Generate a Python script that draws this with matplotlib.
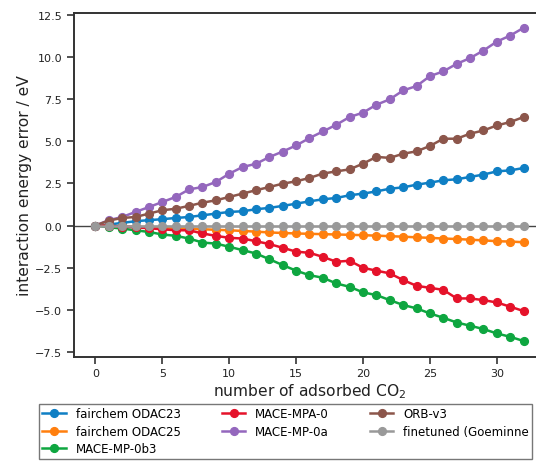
import matplotlib
matplotlib.use("Agg")
import matplotlib.pyplot as plt
import numpy as np

n_co2 = list(range(33))

fairchem_odac23 = [0, 0.06, 0.16, 0.26, 0.32, 0.38, 0.45, 0.51, 0.61, 0.71, 0.81, 0.85, 0.97, 1.05,
                   1.17, 1.30, 1.44, 1.56, 1.64, 1.80, 1.90, 2.03, 2.19, 2.27, 2.43, 2.55, 2.69, 2.75,
                   2.89, 3.03, 3.22, 3.28, 3.42]
fairchem_odac25 = [0, -0.02, -0.05, -0.08, -0.10, -0.13, -0.16, -0.18, -0.22, -0.25, -0.28, -0.32,
                   -0.36, -0.41, -0.44, -0.47, -0.49, -0.51, -0.53, -0.55, -0.57, -0.60, -0.63, -0.66,
                   -0.70, -0.73, -0.77, -0.80, -0.84, -0.88, -0.93, -0.95, -0.99]
mace_mp_0b3 = [0, -0.10, -0.18, -0.28, -0.38, -0.53, -0.61, -0.77, -1.01, -1.07, -1.26, -1.46, -1.66,
               -2.00, -2.35, -2.68, -2.95, -3.10, -3.44, -3.64, -3.97, -4.13, -4.43, -4.72, -4.92,
               -5.22, -5.48, -5.76, -5.95, -6.15, -6.41, -6.61, -6.86]
mace_mpa_0 = [0, -0.02, -0.06, -0.10, -0.16, -0.22, -0.28, -0.28, -0.47, -0.61, -0.73, -0.77, -0.93,
              -1.10, -1.32, -1.55, -1.62, -1.86, -2.15, -2.09, -2.51, -2.68, -2.84, -3.24, -3.58,
              -3.70, -3.82, -4.33, -4.33, -4.43, -4.57, -4.82, -5.08]
mace_mp_0a = [0, 0.32, 0.51, 0.81, 1.10, 1.40, 1.70, 2.15, 2.29, 2.59, 3.08, 3.48, 3.67, 4.07, 4.40,
              4.76, 5.20, 5.59, 5.99, 6.45, 6.71, 7.18, 7.50, 8.03, 8.29, 8.88, 9.16, 9.61, 9.95,
              10.40, 10.93, 11.29, 11.75]
orb_v3 = [0, 0.30, 0.45, 0.51, 0.71, 0.91, 1.00, 1.17, 1.36, 1.50, 1.70, 1.90, 2.10, 2.29, 2.49, 2.63,
          2.83, 3.09, 3.22, 3.34, 3.68, 4.08, 4.02, 4.27, 4.41, 4.73, 5.16, 5.16, 5.46, 5.65, 5.95,
          6.15, 6.45]
finetuned = [0.0] * 33

labels = ["fairchem ODAC23", "fairchem ODAC25", "MACE-MP-0b3", "MACE-MPA-0", "MACE-MP-0a",
          "ORB-v3", "finetuned (Goeminne"]
series = [fairchem_odac23, fairchem_odac25, mace_mp_0b3, mace_mpa_0, mace_mp_0a, orb_v3, finetuned]
colors = ["#0f7fc4", "#ff7f0e", "#0ea640", "#e5122a", "#9467bd", "#8c564b", "#999999"]

plt.rcParams['font.family'] = ['DejaVu Sans']

fig = plt.figure(figsize=(5.36, 4.64), dpi=100)
ax = fig.add_axes([74/536, 1-357.5/464, (545-74)/536, (357.5-13.5)/464])

ax.axhline(0, color="#444444", lw=1.0, zorder=0)
for y, lab, c in zip(series, labels, colors):
    ax.plot(n_co2, y, "-o", color=c, lw=1.8, ms=5.6, label=lab)

ax.set_xlim(-1.6, 33.6)
ax.set_ylim(-7.78, 12.66)
ax.set_xticks([0, 5, 10, 15, 20, 25, 30])
ax.set_yticks([-7.5, -5.0, -2.5, 0.0, 2.5, 5.0, 7.5, 10.0, 12.5])
ax.set_yticklabels(["\u22127.5", "\u22125.0", "\u22122.5", "0.0", "2.5", "5.0", "7.5", "10.0", "12.5"])
ax.tick_params(labelsize=8, length=5, width=1.2, color="#333333", labelcolor="#222222", direction="out")
for s in ax.spines.values():
    s.set_linewidth(1.4)
    s.set_color("#333333")
ax.spines["right"].set_visible(False)

ax.set_xlabel("number of adsorbed CO$_2$", fontsize=11.2, color="#222222", labelpad=2)
ax.set_ylabel("interaction energy error / eV", fontsize=11.2, color="#222222", labelpad=2.5)

leg = fig.legend(loc="upper left", bbox_to_anchor=(33/536, 1-399/464), ncol=3, fontsize=8.5,
                 labelspacing=0.38, handlelength=2.0, columnspacing=3.5, handletextpad=0.8,
                 borderpad=0.3, frameon=True, fancybox=False, edgecolor="#555555")
leg.get_frame().set_linewidth(1.0)

fig.savefig("out.png", dpi=100)
